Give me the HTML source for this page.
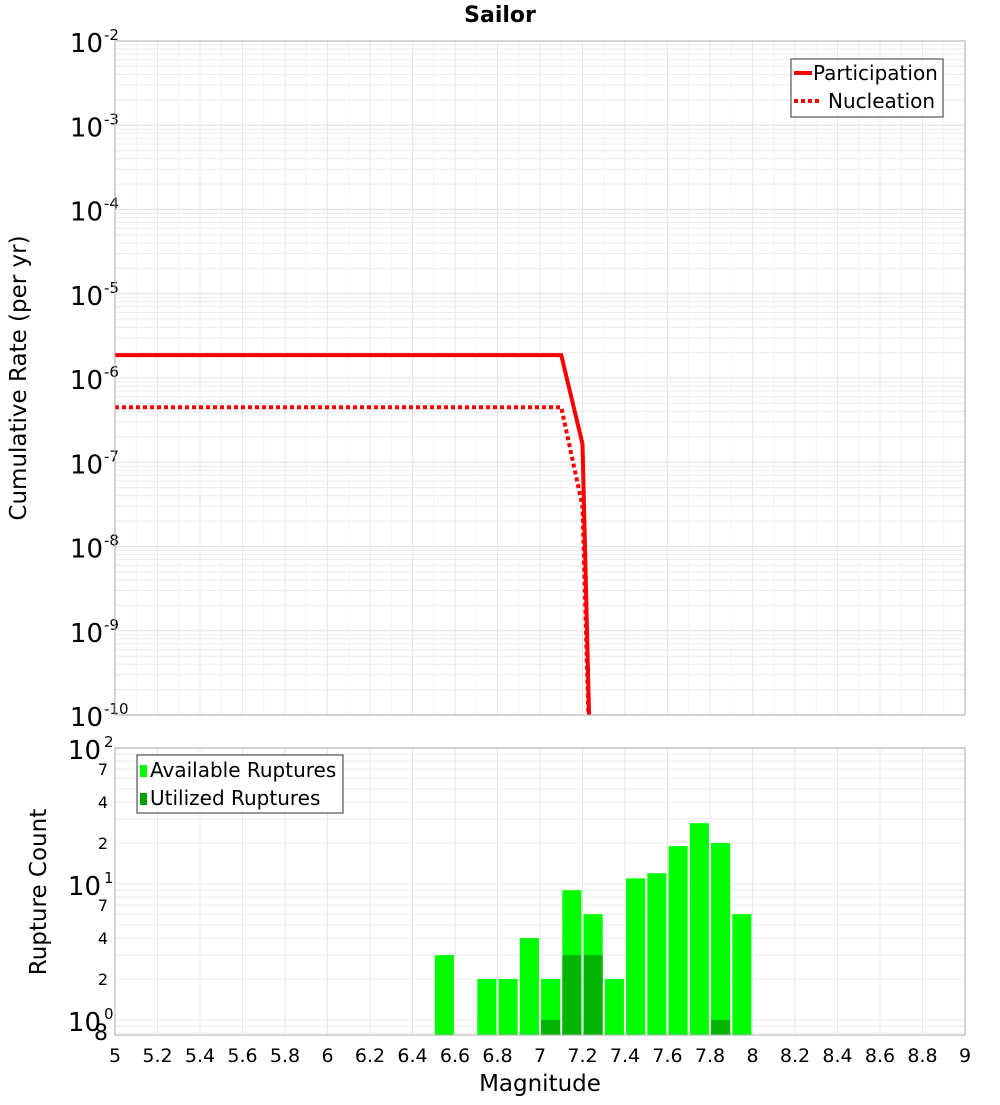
<!DOCTYPE html>
<html><head><meta charset="utf-8"><style>
body{margin:0;background:#fff;font-family:"Liberation Sans","DejaVu Sans",sans-serif}
svg text{font-family:"DejaVu Sans","Liberation Sans",sans-serif}
</style></head><body>
<svg id="c" width="1000" height="1100" xmlns="http://www.w3.org/2000/svg"></svg>
<script>
const magsPart=[5,7.1,7.2,7.25];
const ratesPart=[1.87e-6,1.87e-6,1.65e-7,1e-12];
const magsNuc=[5,7.1,7.2,7.25];
const ratesNuc=[4.5e-7,4.5e-7,3e-8,1e-12];
const binCenters=[6.55,6.75,6.85,6.95,7.05,7.15,7.25,7.35,7.45,7.55,7.65,7.75,7.85,7.95];
const availCounts=[3,2,2,4,2,9,6,2,11,12,19,28,20,6];
const usedCounts=[0,0,0,0,1,3,3,0,0,0,0,0,1,0];
const xTicks=[5,5.2,5.4,5.6,5.8,6,6.2,6.4,6.6,6.8,7,7.2,7.4,7.6,7.8,8,8.2,8.4,8.6,8.8,9];
const topExps=[-2,-3,-4,-5,-6,-7,-8,-9,-10];

const svg=document.getElementById('c');
const NS='http://www.w3.org/2000/svg';
function mk(tag,attrs,parent,text){const e=document.createElementNS(NS,tag);for(const k in attrs)e.setAttribute(k,attrs[k]);if(text!==undefined)e.textContent=text;(parent||svg).appendChild(e);return e;}
const X0=115,X1=965;
const x=m=>X0+(m-5)/4*(X1-X0);
const T0=41,T1=715;
const yT=v=>T0+(-2-Math.log10(v))*(T1-T0)/8;
const B0=748,B1=1035,BDEC=136;
const yB=v=>B0+(2-Math.log10(v))*BDEC;

let t=mk('text',{x:500,y:22,'text-anchor':'middle','font-size':22,'font-weight':'bold'},svg,'Sailor');


let g=mk('g',{});

mk('rect',{x:X0,y:T0,width:X1-X0,height:T1-T0,fill:'#fff'},g);
for(let e=-10;e<-2;e++){for(let k=1;k<10;k++){const yy=yT(k*Math.pow(10,e));mk('line',{x1:X0,x2:X1,y1:yy,y2:yy,stroke:k==1?'#e0e0e0':'#ececec','stroke-width':1},g);}}
xTicks.forEach(m=>{mk('line',{x1:x(m),x2:x(m),y1:T0,y2:T1,stroke:'#e6e6e6'},g);});
for(let i=0;i<20;i++){const m=5.1+i*0.2;mk('line',{x1:x(m),x2:x(m),y1:T0,y2:T1,stroke:'#f2f2f2'},g);}
topExps.forEach(e=>{const yy=yT(Math.pow(10,e));
 mk('text',{x:103,y:yy+11,'text-anchor':'end','font-size':26},g,'10');
 mk('text',{x:104,y:yy-1,'font-size':15},g,String(e));
});
const clipT=mk('clipPath',{id:'ct'});mk('rect',{x:X0,y:T0,width:X1-X0,height:T1-T0},clipT);
let lp=mk('polyline',{points:magsPart.map((m,i)=>x(m)+','+yT(ratesPart[i])).join(' '),fill:'none',stroke:'#f00','stroke-width':4,'clip-path':'url(#ct)'},g);

let ln=mk('polyline',{points:magsNuc.map((m,i)=>x(m)+','+yT(ratesNuc[i])).join(' '),fill:'none',stroke:'#f00','stroke-width':4,'stroke-dasharray':'4 3','clip-path':'url(#ct)'},g);

mk('rect',{x:X0,y:T0,width:X1-X0,height:T1-T0,fill:'none',stroke:'#aaa'},g);
let yl=mk('text',{x:26,y:378,'text-anchor':'middle','font-size':23,transform:'rotate(-90 26 378)'},svg,'Cumulative Rate (per yr)');

let lg=mk('g',{});
mk('rect',{x:791,y:59,width:152,height:58,fill:'#fff',stroke:'#333'},lg);
mk('line',{x1:794,x2:812,y1:73,y2:73,stroke:'#f00','stroke-width':4},lg);
mk('text',{x:813,y:80,'font-size':20},lg,'Participation');
mk('line',{x1:794,x2:822,y1:101,y2:101,stroke:'#f00','stroke-width':4,'stroke-dasharray':'4 3'},lg);
mk('text',{x:828,y:108,'font-size':20},lg,'Nucleation');

let gb=mk('g',{});

mk('rect',{x:X0,y:B0,width:X1-X0,height:B1-B0,fill:'#fff'},gb);
for(let e=-1;e<2;e++){for(let k=1;k<10;k++){const v=k*Math.pow(10,e);if(v<0.75)continue;const yy=yB(v);if(yy<B0)continue;mk('line',{x1:X0,x2:X1,y1:yy,y2:yy,stroke:'#ececec'},gb);}}
xTicks.forEach(m=>{mk('line',{x1:x(m),x2:x(m),y1:B0,y2:B1,stroke:'#e6e6e6'},gb);});
const clipB=mk('clipPath',{id:'cb'});mk('rect',{x:X0,y:B0,width:X1-X0,height:B1-B0},clipB);
binCenters.forEach((c,i)=>{
 const w=x(c+0.045)-x(c-0.045);
 if(availCounts[i]>0){const r=mk('rect',{x:x(c-0.045),y:yB(availCounts[i]),width:w,height:B1-yB(availCounts[i]),fill:'#00ff00','clip-path':'url(#cb)'},gb);
  }
 if(usedCounts[i]>0){const r=mk('rect',{x:x(c-0.045),y:yB(usedCounts[i]),width:w,height:B1-yB(usedCounts[i]),fill:'#00b400','clip-path':'url(#cb)'},gb);
  }
});
mk('rect',{x:X0,y:B0,width:X1-X0,height:B1-B0,fill:'none',stroke:'#aaa'},gb);
[2,1,0].forEach(e=>{const yy=yB(Math.pow(10,e));
 mk('text',{x:101,y:yy+11,'text-anchor':'end','font-size':26},gb,'10');
 mk('text',{x:104,y:yy-1,'font-size':15},gb,String(e));});
[[7,10],[4,10],[2,10],[7,1],[4,1],[2,1]].forEach(([k,s])=>{const yy=yB(k*s);mk('text',{x:108,y:yy+6,'text-anchor':'end','font-size':16},gb,String(k));});
mk('text',{x:108,y:1040,'text-anchor':'end','font-size':22},gb,'8');
let yl2=mk('text',{x:46,y:892,'text-anchor':'middle','font-size':23,transform:'rotate(-90 46 892)'},svg,'Rupture Count');

let lg2=mk('g',{});
mk('rect',{x:137,y:755,width:206,height:58,fill:'#fff',stroke:'#333'},lg2);
mk('rect',{x:140,y:765,width:7,height:12,fill:'#00ff00'},lg2);
mk('text',{x:150,y:777,'font-size':20},lg2,'Available Ruptures');
mk('rect',{x:140,y:793,width:7,height:12,fill:'#00a000'},lg2);
mk('text',{x:150,y:805,'font-size':20},lg2,'Utilized Ruptures');
xTicks.forEach(m=>{const s=(Math.round(m*10)/10).toString();
 const tt=mk('text',{x:x(m),y:1062,'text-anchor':'middle','font-size':19},svg,s);
 });
let xl=mk('text',{x:540,y:1091,'text-anchor':'middle','font-size':23},svg,'Magnitude');

</script>
</body></html>
